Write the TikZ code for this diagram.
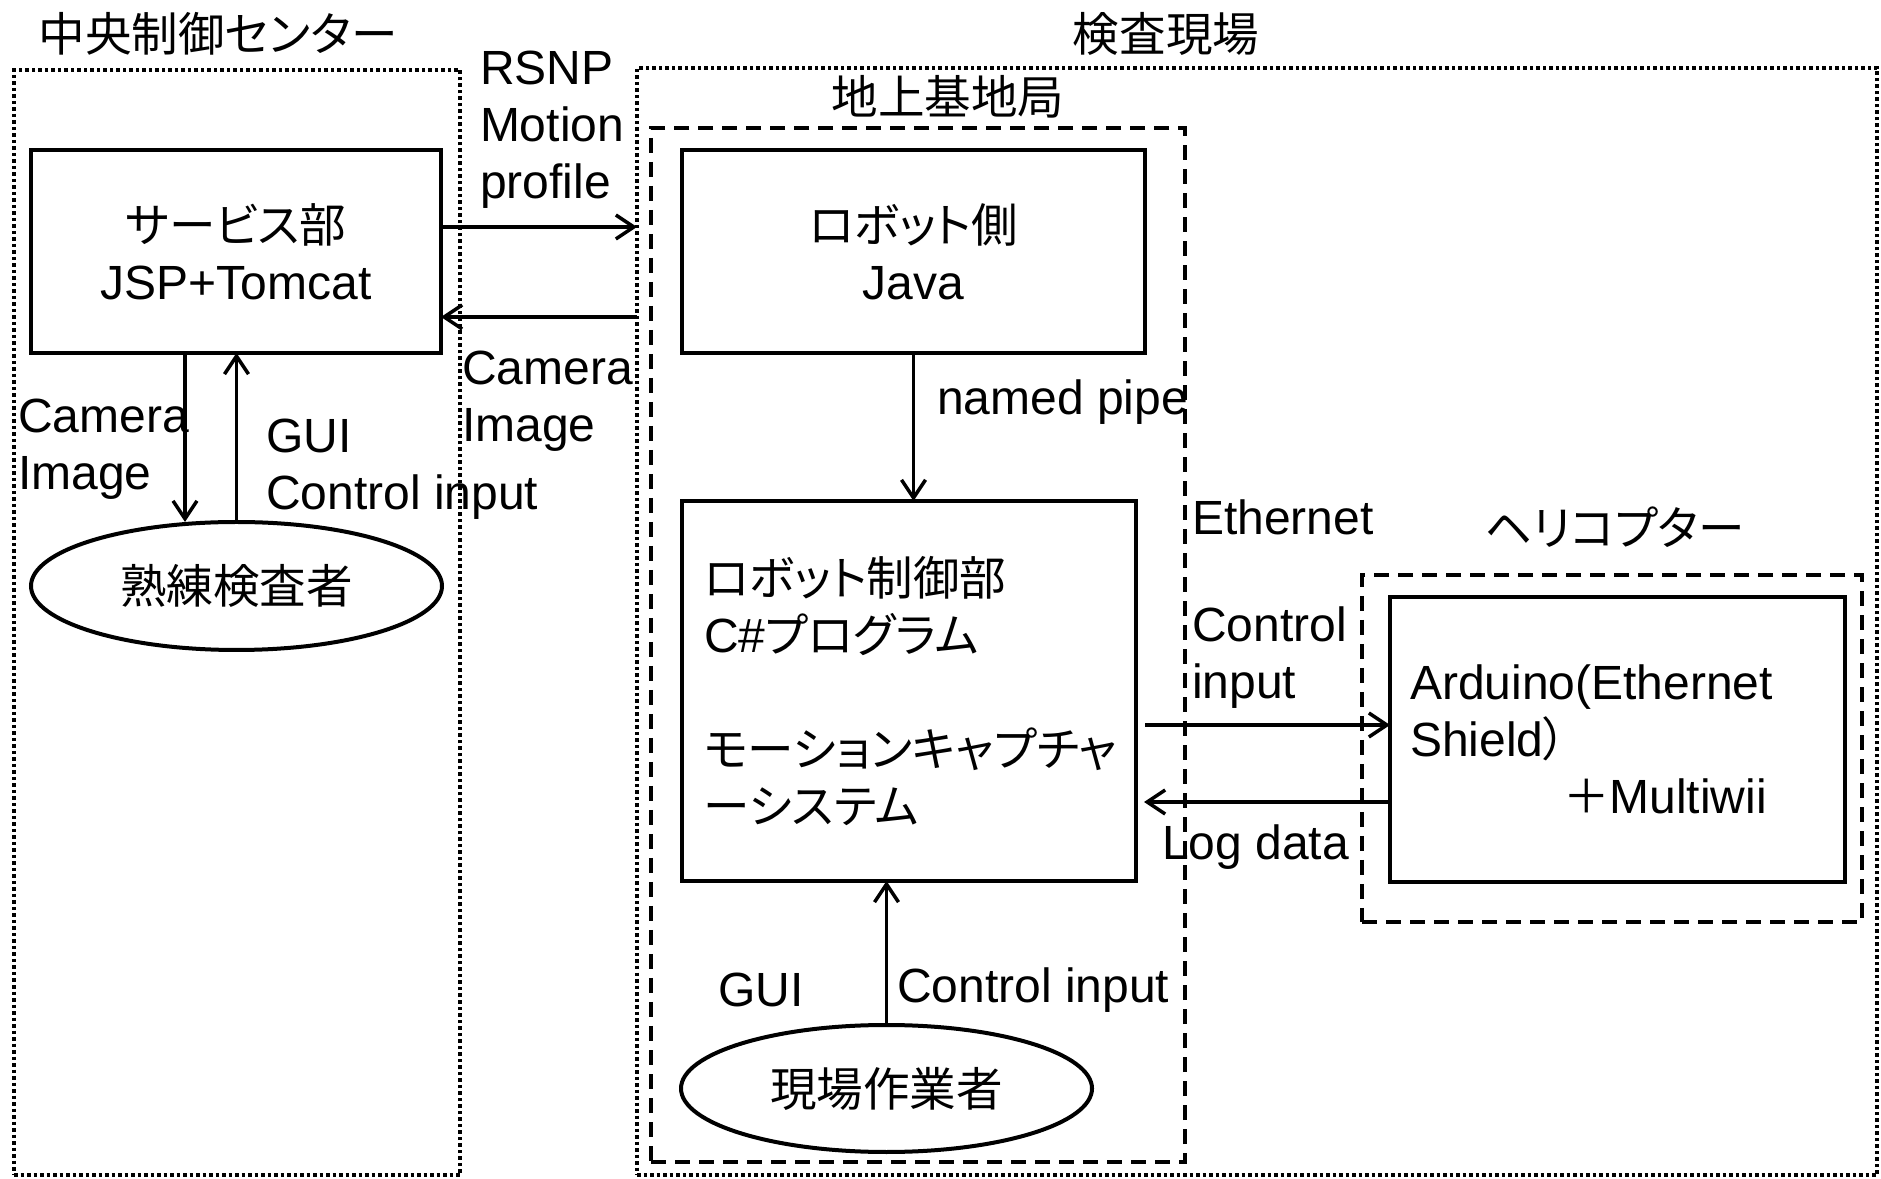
\documentclass[tikz,border=0pt]{standalone}
\usepackage{fontspec}
\setmainfont{Liberation Sans}
\newfontfamily\jp[RawFeature=+palt,Scale=0.97]{Noto Sans CJK JP}
\usetikzlibrary{arrows.meta,shapes.geometric}

\begin{document}
\begin{tikzpicture}[x=1pt,y=1pt,
  font=\fontsize{48}{57}\selectfont,
  solidBox/.style={draw=drawColor,line width=4pt,rectangle,inner sep=0pt,outer sep=0pt},
  dotBox/.style={draw=drawColor,line width=3.5pt,dash pattern=on 3.5pt off 3pt,inner sep=0pt,outer sep=0pt},
  dashBox/.style={draw=drawColor,line width=3.5pt,dash pattern=on 15pt off 9pt,inner sep=0pt,outer sep=0pt},
  userEllipse/.style={draw=drawColor,line width=4pt,ellipse,inner sep=0pt,outer sep=0pt},
  lbl/.style={text=drawColor,anchor=west,align=left,inner sep=0pt,outer sep=0pt},
  ttl/.style={text=drawColor,inner sep=0pt,outer sep=0pt},
  link/.style={draw=drawColor,line width=3.5pt,-{Straight Barb[length=18pt,width=24pt]}}]
\definecolor{fillColor}{RGB}{255,255,255}
\definecolor{drawColor}{RGB}{0,0,0}
\path[use as bounding box,fill=fillColor] (0,0) rectangle (1881,1178);

% groups
\node[dotBox,minimum width=446,minimum height=1105] (ctr) at (237,555.5) {};
\node[dotBox,minimum width=1240,minimum height=1107] (site) at (1257,556.5) {};
\node[dashBox,minimum width=534,minimum height=1034] (gnd) at (918,533) {};
\node[dashBox,minimum width=500,minimum height=347] (heli) at (1612,429.5) {};

\node[ttl] (ctrT) at (218,1144) {\jp 中央制御センター};
\node[ttl] (siteT) at (1166,1144) {\jp 検査現場};
\node[ttl] (gndT) at (948,1081) {\jp 地上基地局};
\node[ttl] (heliT) at (1615,651) {\jp ヘリコプター};

% boxes
\node[solidBox,minimum width=410,minimum height=203,align=center] (svc) at (236,926.5) {{\jp サービス部}\\JSP+Tomcat};
\node[solidBox,minimum width=463,minimum height=203,align=center] (java) at (913.5,926.5) {{\jp ロボット側}\\Java};
\node[solidBox,minimum width=454,minimum height=380,text width=410,align=left] (ctl) at (909,487) {{\jp ロボット制御部}\\C\#{\jp プログラム}\\[57pt]{\jp モーションキャプチャ}\\{\jp ーシステム}};
\node[solidBox,minimum width=455,minimum height=285,text width=415,align=left] (ard) at (1617.5,438.5) {Arduino(Ethernet\\Shield{\jp ）}\\\hspace*{153pt}{\jp ＋}Multiwii};

\node[userEllipse,minimum width=411,minimum height=128] (insp) at (236.5,592) {\jp 熟練検査者};
\node[userEllipse,minimum width=411,minimum height=127] (wkr) at (886.5,89.5) {\jp 現場作業者};

% connectors
\draw[link] ([yshift=24.5]svc.east) -- ([yshift=24.5]svc.east -| site.west);
\draw[link] ([yshift=-65.5]svc.east -| site.west) -- ([yshift=-65.5]svc.east);
\draw[link] ([xshift=-51]svc.south) -- ([xshift=-51]svc.south |- insp.north);
\draw[link] (insp.north) -- (insp.north |- svc.south);
\draw[link] (java.south) -- (java.south |- ctl.north);
\draw[link] (wkr.north) -- (wkr.north |- ctl.south);
\draw[link,shorten <=9] ([yshift=-34]ctl.east) -- ([yshift=-34]ctl.east -| ard.west);
\draw[link,shorten >=8] ([yshift=-111]ctl.east -| ard.west) -- ([yshift=-111]ctl.east);

% labels
\node[lbl] (rsnpL) at (480,1048) {RSNP\\Motion\\profile};
\node[lbl] (camR) at (462,777) {Camera\\Image};
\node[lbl] (camL) at (18,729) {Camera\\Image};
\node[lbl] (guiL) at (266,709) {GUI\\Control input};
\node[lbl] (pipeL) at (937,776) {named pipe};
\node[lbl] (etherL) at (1192,661) {Ethernet};
\node[lbl] (ctlinL) at (1192,520) {Control\\input};
\node[lbl] (logL) at (1162,331) {Log data};
\node[lbl] (guiB) at (718,188) {GUI};
\node[lbl] (ctlB) at (897,188) {Control input};
\end{tikzpicture}
\end{document}
